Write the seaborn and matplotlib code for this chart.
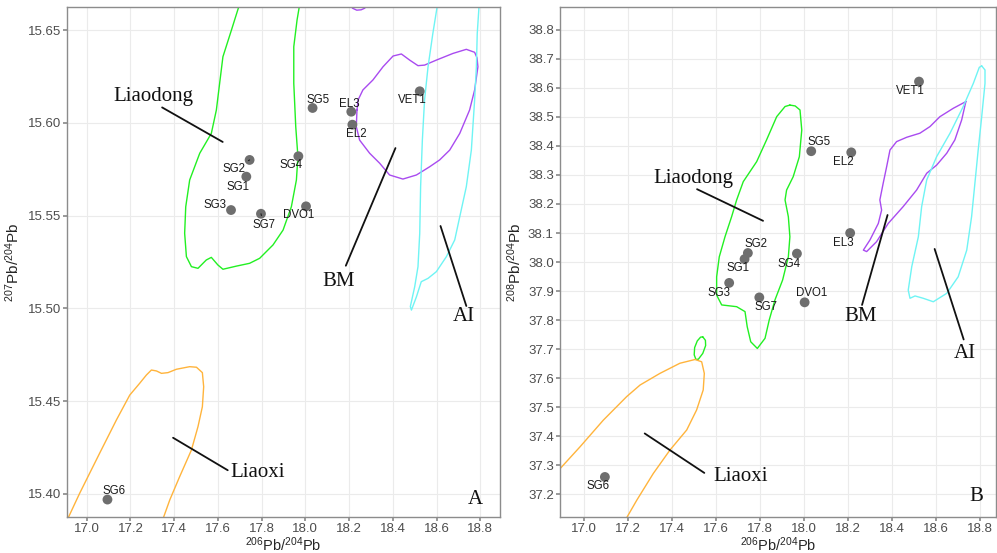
import numpy as np
import matplotlib
matplotlib.use("Agg")
import matplotlib.pyplot as plt
import seaborn as sns
import pandas as pd

sns.set_theme(style="whitegrid")
plt.rcParams['font.family'] = ['Liberation Sans', 'DejaVu Sans']
plt.rcParams['mathtext.default'] = 'regular'

# ---- sample data
samples = ['SG1', 'SG2', 'SG3', 'SG4', 'SG5', 'SG6', 'SG7', 'DVO1', 'EL2', 'EL3', 'VET1']
pb206 = [17.73, 17.745, 17.66, 17.968, 18.033, 17.095, 17.797, 18.003, 18.215, 18.21, 18.523]
pb207 = [15.571, 15.580, 15.553, 15.582, 15.608, 15.397, 15.551, 15.555, 15.599, 15.606, 15.617]
pb208 = [38.010, 38.031, 37.928, 38.029, 38.382, 37.259, 37.878, 37.861, 38.378, 38.100, 38.622]

# ---- density contours, panel A (206 vs 207)
liaodong_a_x = [17.71, 17.662, 17.623, 17.608, 17.593, 17.570, 17.517, 17.471, 17.453, 17.448, 17.456, 17.479,
                17.509, 17.547, 17.570, 17.600, 17.623, 17.685, 17.745, 17.791, 17.852, 17.898, 17.936, 17.959,
                17.966, 17.956, 17.947, 17.947, 17.962, 17.98]
liaodong_a_y = [15.668, 15.650, 15.6356, 15.6213, 15.6069, 15.5943, 15.5836, 15.5692, 15.5548, 15.5405, 15.5279,
                15.5225, 15.5216, 15.5261, 15.5275, 15.5234, 15.5211, 15.5228, 15.5243, 15.5270, 15.5342, 15.5422,
                15.5548, 15.5692, 15.5817, 15.5979, 15.6213, 15.6410, 15.6554, 15.668]
bm_a_x = [18.236, 18.233, 18.248, 18.294, 18.340, 18.385, 18.446, 18.508, 18.568, 18.614, 18.660, 18.706, 18.751,
          18.774, 18.789, 18.785, 18.774, 18.736, 18.675, 18.599, 18.545, 18.515, 18.477, 18.439, 18.401, 18.355,
          18.309, 18.263, 18.241, 18.236]
bm_a_y = [15.6069, 15.5979, 15.5907, 15.5836, 15.5782, 15.5719, 15.5697, 15.5719, 15.5763, 15.5800, 15.5853,
          15.5943, 15.6069, 15.6177, 15.6302, 15.6350, 15.6380, 15.6396, 15.6374, 15.6338, 15.6311, 15.6308,
          15.6338, 15.6371, 15.6360, 15.6302, 15.6231, 15.6177, 15.6123, 15.6069]
bm2_a_x = [18.205, 18.215, 18.235, 18.255, 18.272, 18.285, 18.27, 18.22, 18.205]
bm2_a_y = [15.668, 15.6618, 15.6607, 15.6609, 15.6618, 15.668, 15.68, 15.68, 15.668]
ai_a_x = [18.61, 18.583, 18.561, 18.545, 18.535, 18.527, 18.523, 18.515, 18.500, 18.480, 18.485, 18.508, 18.530,
          18.561, 18.599, 18.645, 18.683, 18.706, 18.736, 18.759, 18.774, 18.782, 18.786, 18.797]
ai_a_y = [15.668, 15.6482, 15.6302, 15.6123, 15.5907, 15.5656, 15.5405, 15.5225, 15.5117, 15.5010, 15.4991,
          15.5063, 15.5144, 15.5162, 15.5198, 15.5279, 15.5369, 15.5494, 15.5656, 15.5853, 15.6123, 15.6302,
          15.6482, 15.668]
liaoxi_a_x = [16.895, 16.968, 17.059, 17.136, 17.197, 17.242, 17.273, 17.296, 17.319, 17.342, 17.372, 17.410,
              17.471, 17.502, 17.529, 17.535, 17.529, 17.509, 17.479, 17.425, 17.380, 17.335]
liaoxi_a_y = [15.382, 15.4004, 15.4219, 15.4399, 15.4533, 15.4596, 15.4641, 15.4668, 15.4663, 15.4650, 15.4654,
              15.4672, 15.4686, 15.4683, 15.4654, 15.4578, 15.4470, 15.4363, 15.4237, 15.4093, 15.3968, 15.382]

# ---- density contours, panel B (206 vs 208)
liaodong_b_x = [17.936, 17.960, 17.982, 17.990, 17.979, 17.951, 17.921, 17.914, 17.929, 17.936, 17.929, 17.903,
                17.868, 17.842, 17.823, 17.788, 17.758, 17.742, 17.732, 17.694, 17.626, 17.603, 17.603, 17.615,
                17.641, 17.671, 17.694, 17.724, 17.785, 17.830, 17.876, 17.914, 17.936]
liaodong_b_y = [38.541, 38.538, 38.524, 38.455, 38.363, 38.294, 38.248, 38.214, 38.156, 38.087, 38.018, 37.938,
                37.869, 37.800, 37.737, 37.702, 37.725, 37.777, 37.829, 37.846, 37.852, 37.886, 37.949, 38.018,
                38.087, 38.156, 38.214, 38.277, 38.346, 38.421, 38.501, 38.536, 38.541]
liaodong2_b_x = [17.540, 17.552, 17.553, 17.540, 17.520, 17.509, 17.501, 17.503, 17.515, 17.530, 17.540]
liaodong2_b_y = [37.742, 37.730, 37.712, 37.685, 37.665, 37.664, 37.680, 37.705, 37.728, 37.741, 37.742]
bm_b_x = [18.736, 18.679, 18.618, 18.573, 18.527, 18.467, 18.421, 18.391, 18.376, 18.360, 18.345, 18.353, 18.338,
          18.300, 18.270, 18.285, 18.330, 18.383, 18.451, 18.512, 18.558, 18.603, 18.649, 18.686, 18.717, 18.736]
bm_b_y = [38.553, 38.530, 38.501, 38.467, 38.444, 38.430, 38.415, 38.386, 38.329, 38.271, 38.214, 38.179, 38.133,
          38.076, 38.041, 38.036, 38.070, 38.133, 38.191, 38.248, 38.306, 38.334, 38.375, 38.421, 38.490, 38.553]
ai_b_x = [18.808, 18.823, 18.823, 18.808, 18.792, 18.777, 18.762, 18.740, 18.701, 18.649, 18.588, 18.542, 18.505,
          18.482, 18.474, 18.490, 18.520, 18.535, 18.558, 18.603, 18.664, 18.724, 18.770, 18.797, 18.808]
ai_b_y = [38.676, 38.662, 38.616, 38.501, 38.386, 38.271, 38.156, 38.041, 37.949, 37.892, 37.863, 37.875, 37.883,
          37.875, 37.903, 37.984, 38.087, 38.191, 38.283, 38.363, 38.444, 38.536, 38.616, 38.671, 38.676]
liaoxi_b_x = [16.87, 16.982, 17.088, 17.194, 17.255, 17.345, 17.436, 17.505, 17.535, 17.547, 17.542, 17.512,
              17.467, 17.391, 17.315, 17.240, 17.18]
liaoxi_b_y = [37.27, 37.363, 37.455, 37.536, 37.576, 37.616, 37.651, 37.664, 37.656, 37.616, 37.559, 37.490,
              37.421, 37.352, 37.271, 37.179, 37.10]

GREEN, PURPLE, CYAN, ORANGE = '#22F022', '#A94BF0', '#6FF4F4', '#FFB43C'

# label offsets (points) for sample names
offs_a = {'SG1': (-5.8, -7.2), 'SG2': (-11.5, -6.5), 'SG3': (-11.5, 3.6), 'SG4': (-5, -6.5), 'SG5': (4.3, 5.5),
          'SG6': (5, 5.8), 'SG7': (2.2, -8), 'DVO1': (-5, -6.5), 'EL2': (2.9, -6.5), 'EL3': (-1.4, 5.8),
          'VET1': (-5, -6.5)}
offs_b = {'SG1': (-5, -6.5), 'SG2': (5.8, 6.5), 'SG3': (-7.2, -7.2), 'SG4': (-5.8, -7.2), 'SG5': (5.8, 6.5),
          'SG6': (-5, -6.5), 'SG7': (5, -7.2), 'DVO1': (5, 6.5), 'EL2': (-5.8, -7.2), 'EL3': (-5, -7.2),
          'VET1': (-6.5, -6.5)}
seg_a = ['SG2', 'SG7']

# region names: text position, leader line start, end
regions_a = [('Liaodong', (17.307, 15.6142), (17.345, 15.6083), (17.622, 15.5897)),
             ('BM', (18.151, 15.5144), (18.185, 15.523), (18.412, 15.5864)),
             ('AI', (18.724, 15.4955), (18.618, 15.5444), (18.736, 15.5013)),
             ('Liaoxi', (17.780, 15.4114), (17.395, 15.4303), (17.645, 15.4128))]
regions_b = [('Liaodong', (17.495, 38.289), (17.514, 38.251), (17.814, 38.142)),
             ('BM', (18.256, 37.811), (18.264, 37.852), (18.380, 38.162)),
             ('AI', (18.733, 37.685), (18.594, 38.045), (18.726, 37.733)),
             ('Liaoxi', (17.711, 37.260), (17.276, 37.409), (17.547, 37.273))]

df = pd.DataFrame({'sample': samples, 'pb206': pb206, 'pb207': pb207, 'pb208': pb208})

fig = plt.figure(figsize=(9.97, 5.53), dpi=100)
ax1 = fig.add_axes([0.0672, 0.0651, 0.4343, 0.9222])
ax2 = fig.add_axes([0.5617, 0.0651, 0.4373, 0.9222])


def contour(ax, xs, ys, color):
    sns.lineplot(x=xs, y=ys, sort=False, estimator=None, color=color, lw=1.0, ax=ax,
                 solid_joinstyle='round')


def panel(ax, ycol, contours, offs, segs, regions, letter, letter_xy):
    for xs, ys, c in contours:
        contour(ax, xs, ys, c)
    sns.scatterplot(data=df, x='pb206', y=ycol, color='#6E6E6E', s=50, edgecolor='none', ax=ax, zorder=5)
    for _, r in df.iterrows():
        dx, dy = offs[r['sample']]
        ap = dict(arrowstyle='-', color='#222222', lw=0.8, shrinkA=4, shrinkB=4) if r['sample'] in segs else None
        ax.annotate(r['sample'], (r['pb206'], r[ycol]), xytext=(dx, dy), textcoords='offset points',
                    ha='center', va='center', fontsize=8.3, color='#1A1A1A', arrowprops=ap, zorder=6)
    for name, txy, p0, p1 in regions:
        ax.text(*txy, name, ha='center', va='center', fontsize=15, family='Liberation Serif', color='#111111')
        ax.plot([p0[0], p1[0]], [p0[1], p1[1]], color='#111111', lw=1.3)
    ax.text(*letter_xy, letter, ha='center', va='center', fontsize=15, family='Liberation Serif', color='#111111')
    ax.grid(True, color='#EBEBEB', lw=0.8)
    for s in ax.spines.values():
        s.set_color('#8C8C8C')
        s.set_linewidth(1.0)
    ax.tick_params(axis='both', which='major', length=3, color='#8C8C8C', labelsize=9.5,
                   labelcolor='#4D4D4D', pad=1.5, bottom=True, left=True, direction='out')
    ax.set_xticks(np.arange(17.0, 18.81, 0.2))
    ax.set_xticklabels([f'{v:.1f}' for v in np.arange(17.0, 18.81, 0.2)])
    ax.set_xlabel(r'$^{206}$Pb/$^{204}$Pb', fontsize=10.5, labelpad=0)


panel(ax1, 'pb207',
      [(liaodong_a_x, liaodong_a_y, GREEN), (bm_a_x, bm_a_y, PURPLE), (bm2_a_x, bm2_a_y, PURPLE),
       (ai_a_x, ai_a_y, CYAN), (liaoxi_a_x, liaoxi_a_y, ORANGE)],
      offs_a, seg_a, regions_a, 'A', (18.777, 15.397))
ax1.set_xlim(16.91, 18.89)
ax1.set_ylim(15.3876, 15.6624)
yt = np.arange(15.40, 15.651, 0.05)
ax1.set_yticks(yt)
ax1.set_yticklabels([f'{v:.2f}' for v in yt])
ax1.set_ylabel(r'$^{207}$Pb/$^{204}$Pb', fontsize=11, labelpad=4)

panel(ax2, 'pb208',
      [(liaodong_b_x, liaodong_b_y, GREEN), (liaodong2_b_x, liaodong2_b_y, GREEN), (bm_b_x, bm_b_y, PURPLE),
       (ai_b_x, ai_b_y, CYAN), (liaoxi_b_x, liaoxi_b_y, ORANGE)],
      offs_b, [], regions_b, 'B', (18.782, 37.190))
ax2.set_xlim(16.891, 18.873)
ax2.set_ylim(37.121, 38.879)
yt2 = np.arange(37.2, 38.81, 0.1)
ax2.set_yticks(yt2)
ax2.set_yticklabels([f'{v:.1f}' for v in yt2])
ax2.set_ylabel(r'$^{208}$Pb/$^{204}$Pb', fontsize=11, labelpad=3)

fig.savefig('out.png', dpi=100)
